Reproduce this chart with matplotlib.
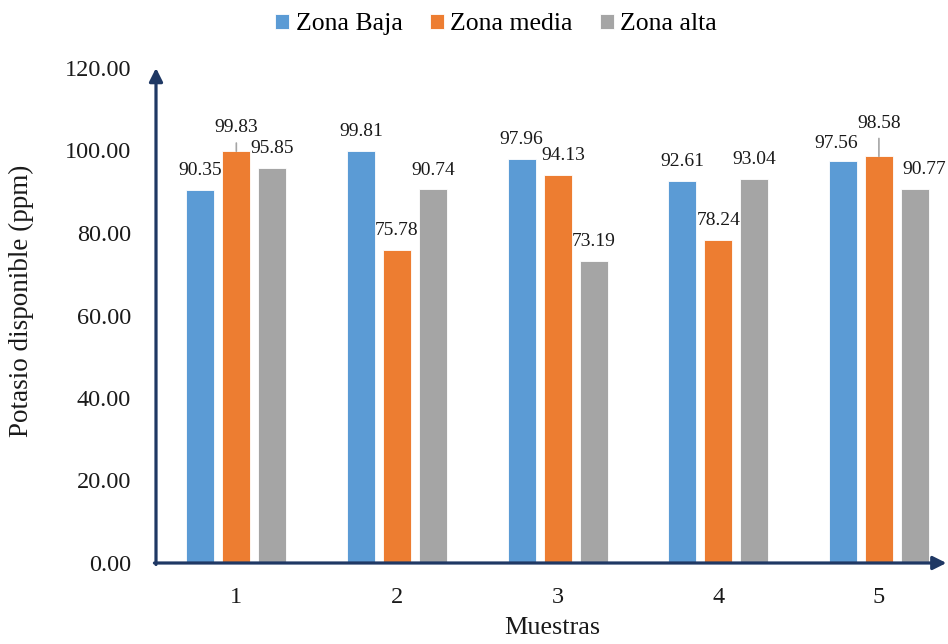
import matplotlib
matplotlib.use("Agg")
import matplotlib.pyplot as plt
import numpy as np

plt.rcParams['font.family'] = ['Liberation Serif', 'DejaVu Serif']

# data
muestras = ['1', '2', '3', '4', '5']
zona_baja = [90.35, 99.81, 97.96, 92.61, 97.56]
zona_media = [99.83, 75.78, 94.13, 78.24, 98.58]
zona_alta = [95.85, 90.74, 73.19, 93.04, 90.77]
series_names = ['Zona Baja', 'Zona media', 'Zona alta']

colors = ['#5B9BD5', '#ED7D31', '#A5A5A5']
navy = '#1F3864'

# label offsets in points (dx, dy), per series per sample
label_off = [
    [(0, 14), (0, 14), (0, 14), (0, 14), (-5, 12)],
    [(0, 17), (0, 14), (4, 14), (0, 14), (0, 24)],
    [(0, 14), (0, 13), (0, 14), (0, 14), (7, 14)],
]
leader = {(1, 0), (1, 4)}

fig = plt.figure(figsize=(9.48, 6.44), dpi=100)
ax = fig.add_axes([156 / 948, 81 / 644, 792 / 948, 495 / 644])

x = np.arange(1, len(muestras) + 1)
w = 0.174
step = 0.224
all_series = [zona_baja, zona_media, zona_alta]
for i, vals in enumerate(all_series):
    xs = x + (i - 1) * step
    ax.bar(xs, vals, w, color=colors[i], label=series_names[i],
           edgecolor='white', linewidth=0.6, zorder=2)
    for j, v in enumerate(vals):
        dx, dy = label_off[i][j]
        if (i, j) in leader:
            ax.annotate(f'{v:.2f}', xy=(xs[j], v), xytext=(dx, dy),
                        textcoords='offset points', ha='center', va='center',
                        fontsize=14, color='#1a1a1a',
                        arrowprops=dict(arrowstyle='-', color='#A5A5A5', lw=1.2,
                                        shrinkA=3, shrinkB=0))
        else:
            ax.annotate(f'{v:.2f}', xy=(xs[j], v), xytext=(dx, dy),
                        textcoords='offset points', ha='center', va='center',
                        fontsize=14, color='#1a1a1a')

ax.set_xlim(0.5, 5.43)
ax.set_ylim(0, 120)
ax.set_yticks(np.arange(0, 121, 20))
ax.set_yticklabels([f'{t:.2f}' for t in np.arange(0, 121, 20)])
ax.set_xticks(x)
ax.set_xticklabels(muestras)
ax.tick_params(axis='y', length=0, pad=18, labelsize=17.5, labelcolor='#1a1a1a')
ax.tick_params(axis='x', length=0, pad=17, labelsize=17.5, labelcolor='#1a1a1a')
for s in ax.spines.values():
    s.set_visible(False)

# axis arrows
ax.annotate('', xy=(0, 1.0), xytext=(0, -0.003), xycoords='axes fraction',
            arrowprops=dict(arrowstyle='-|>', color=navy, lw=2.3,
                            mutation_scale=20, shrinkA=0, shrinkB=0),
            annotation_clip=False)
ax.annotate('', xy=(0.998, 0), xytext=(-0.002, 0), xycoords='axes fraction',
            arrowprops=dict(arrowstyle='-|>', color=navy, lw=2.3,
                            mutation_scale=20, shrinkA=0, shrinkB=0),
            annotation_clip=False)

ax.set_xlabel('Muestras', fontsize=18.8, labelpad=7, color='#1a1a1a')
ax.set_ylabel('Potasio disponible (ppm)', fontsize=19.5, color='#1a1a1a')
ax.yaxis.set_label_coords(-0.154, 0.53)

fig.legend(loc='upper center', bbox_to_anchor=(496 / 948, 1.015), ncol=3,
           frameon=False, fontsize=18.5, handlelength=0.55, handleheight=0.55,
           handletextpad=0.25, columnspacing=1.05)

fig.savefig('out.png', dpi=100)
